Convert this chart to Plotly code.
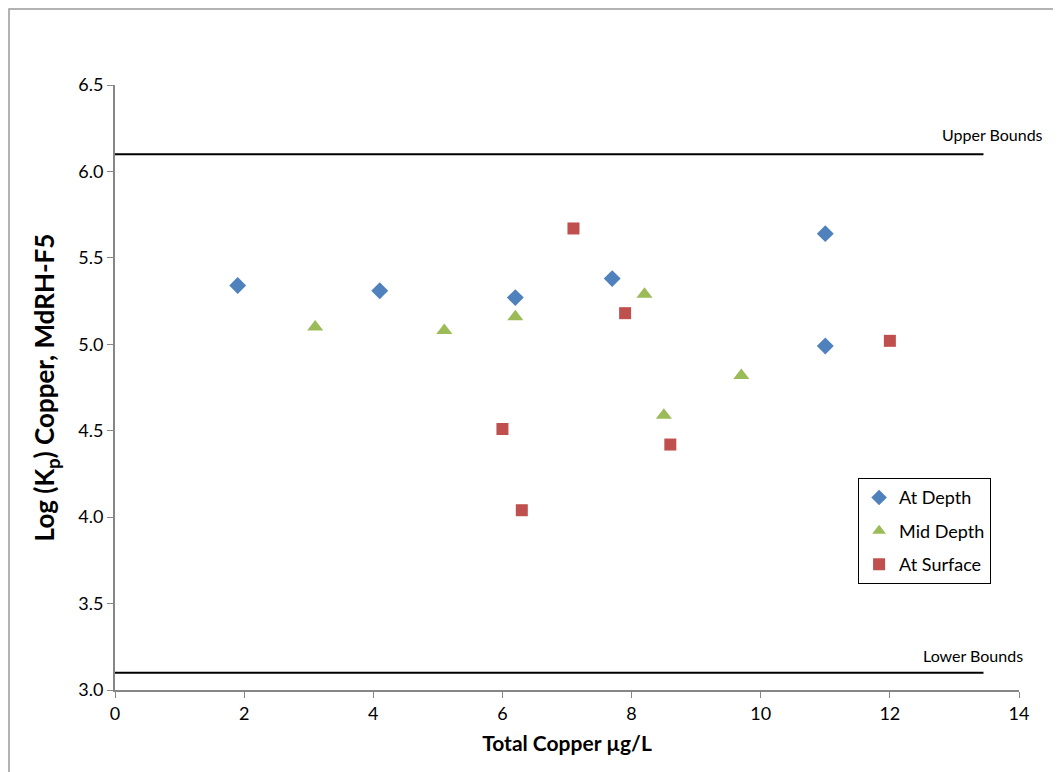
import plotly.graph_objects as go

# Data
depth_x = [1.9, 4.1, 6.2, 7.7, 11.0, 11.0]
depth_y = [5.34, 5.31, 5.27, 5.38, 5.64, 4.99]
mid_x = [3.1, 5.1, 6.2, 8.2, 8.5, 9.7]
mid_y = [5.10, 5.08, 5.16, 5.29, 4.59, 4.82]
surf_x = [7.1, 7.9, 6.0, 6.3, 8.6, 12.0]
surf_y = [5.67, 5.18, 4.51, 4.04, 4.42, 5.02]
bound_names = ["Upper Bounds", "Lower Bounds"]
bound_values = [6.1, 3.1]
bound_x = [0, 13.45]

FONT = "Lato, 'Open Sans', sans-serif"
X_MAX = 14

fig = go.Figure()
label_x = [14.4, 14.09]
label_shift = [8, 6]
for name, val, lx, ys in zip(bound_names, bound_values, label_x, label_shift):
    fig.add_trace(go.Scatter(x=bound_x, y=[val, val], mode="lines",
                             line=dict(color="black", width=2),
                             showlegend=False, hoverinfo="skip"))
    fig.add_annotation(xref="paper", yref="y", x=lx / X_MAX, y=val, text=name,
                       showarrow=False, xanchor="right", yanchor="bottom", yshift=ys,
                       font=dict(size=16, color="black", family=FONT))

fig.add_trace(go.Scatter(x=depth_x, y=depth_y, mode="markers", name="At Depth",
                         legendgroup="a",
                         marker=dict(symbol="diamond", size=13, color="#4F81BD")))
fig.add_trace(go.Scatter(x=mid_x, y=mid_y, mode="markers", name="Mid Depth",
                         legendgroup="b",
                         marker=dict(symbol="triangle-up", size=14, color="#9BBB59")))
fig.add_trace(go.Scatter(x=surf_x, y=surf_y, mode="markers", name="At Surface",
                         legendgroup="c",
                         marker=dict(symbol="square", size=12, color="#C0504D")))

fig.update_layout(
    width=1053, height=764,
    margin=dict(l=107, r=42, t=77, b=82),
    paper_bgcolor="white", plot_bgcolor="white",
    font=dict(family=FONT, size=16, color="black"),
    legend=dict(x=0.822, y=0.35, xanchor="left", yanchor="top",
                bordercolor="black", borderwidth=1, bgcolor="white",
                font=dict(size=18, family=FONT), itemsizing="constant",
                tracegroupgap=7),
    xaxis=dict(range=[0, X_MAX], dtick=2, tick0=0, showgrid=False, zeroline=False,
               showline=True, linecolor="#868686", linewidth=2,
               ticks="outside", ticklen=6, tickcolor="#868686",
               tickfont=dict(size=18),
               title=dict(text="<b>Total Copper µg/L</b>", font=dict(size=21), standoff=14)),
    yaxis=dict(range=[3.0, 6.5], dtick=0.5, tick0=3.0, tickformat=".1f",
               showgrid=False, zeroline=False,
               showline=True, linecolor="#868686", linewidth=2,
               ticks="outside", ticklen=6, tickcolor="#868686",
               tickfont=dict(size=18),
               title=dict(text="<b>Log (K<sub>p</sub>) Copper, MdRH-F5</b>", font=dict(size=26), standoff=16)),
    shapes=[dict(type="rect", xref="paper", yref="paper",
                 x0=(1 - 107) / 904, x1=(1047 - 107) / 904,
                 y0=-0.3, y1=(682 - 1) / 605,
                 line=dict(color="#9a9a9a", width=1.5), layer="below")],
)

fig.write_html("out.html")
